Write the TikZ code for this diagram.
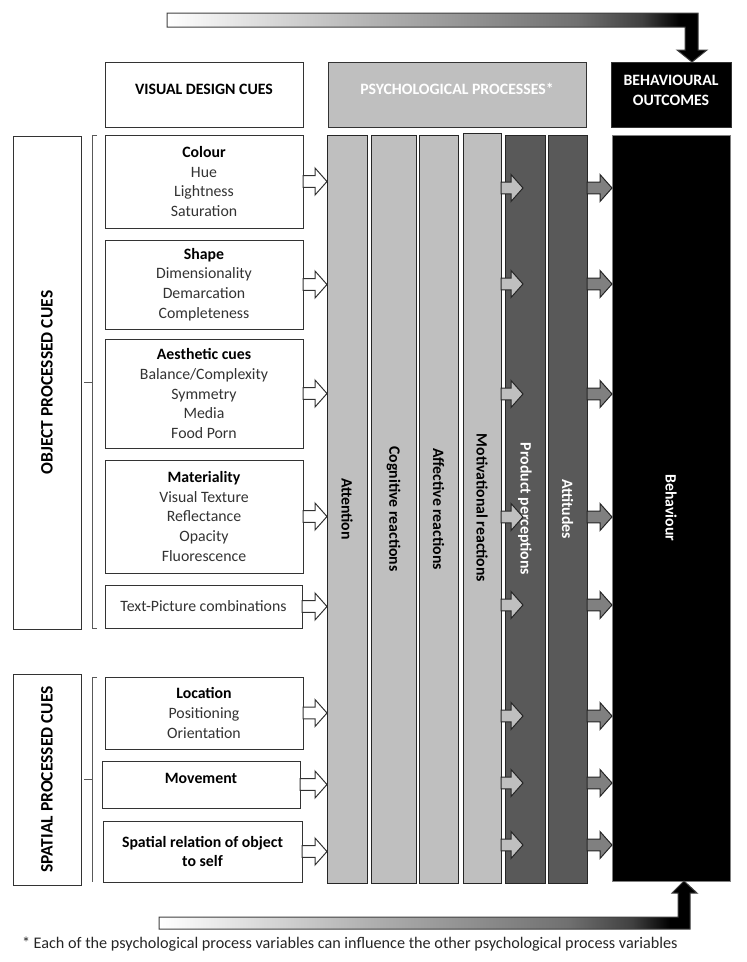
\documentclass[tikz,border=0pt]{standalone}
\usepackage{fontspec}
\setmainfont{Carlito}
\usetikzlibrary{calc,positioning}

\pgfdeclarehorizontalshading{elbowshade}{100bp}{color(0bp)=(white); color(25bp)=(white); color(44.5bp)=(black!31); color(63bp)=(black!56); color(69bp)=(black!75); color(72.5bp)=(black); color(100bp)=(black)}
\newcommand{\blockarrow}[3]{%
  \draw[#1] let \p1=#2, \p2=#3 in
    (\x1,\y1+5.8pt) -- (\x2-12pt,\y1+5.8pt) -- (\x2-12pt,\y1+13.5pt) -- (\x2,\y1)
    -- (\x2-12pt,\y1-13.5pt) -- (\x2-12pt,\y1-5.8pt) -- (\x1,\y1-5.8pt) -- cycle;}
\newcommand{\cuehead}[1]{\textcolor{black}{\textbf{#1}}}

\begin{document}
\begin{tikzpicture}[x=1pt,y=-1pt,line width=1pt,font=\fontsize{15.8}{19.6}\selectfont]
                \tikzstyle{every node}=[inner sep=0pt,outer sep=0pt]
                \tikzstyle{cue}=[draw=black!80,fill=white,text=black!80,align=center,minimum width=198pt]
                \tikzstyle{head}=[draw=black!80,minimum height=65pt,align=center]
                \tikzstyle{side}=[draw=black!80,fill=white,minimum width=68pt]
                \tikzstyle{proc}=[draw=black!85,fill=black!25,minimum height=748pt]
                \tikzstyle{proc-dark}=[proc,fill=black!65]
                \tikzstyle{hollow}=[draw=black!80,fill=white]
                \tikzstyle{light-arrow}=[draw=black!85,fill=black!25]
                \tikzstyle{dark-arrow}=[draw=black!85,fill=black!50]
                \useasboundingbox (0,0) rectangle (747,962);

                \node[head,fill=white,minimum width=198pt,label={[yshift=5.5pt]center:\textbf{VISUAL DESIGN CUES}}] (h_1) at (204,94.5) {};
                \node[head,fill=black!25,minimum width=258pt,label={[yshift=5.5pt,text=white]center:\textbf{PSYCHOLOGICAL PROCESSES*}}] (h_2) at (457,94.5) {};
                \node[head,fill=black,minimum width=120pt,label={[yshift=4pt,text=white,align=center]center:\textbf{BEHAVIOURAL}\\\textbf{OUTCOMES}}] (h_3) at (671,94.5) {};

                \node[side,minimum height=493pt,label={[rotate=90]center:\fontsize{17.5}{20}\selectfont\textbf{OBJECT PROCESSED CUES}}] (l_1) at (47,382.5) {};
                \node[side,minimum height=211pt,label={[rotate=90]center:\fontsize{17.5}{20}\selectfont\textbf{SPATIAL PROCESSED CUES}}] (l_2) at (47,779.5) {};

                \node[cue,minimum height=93pt] (c_1) at (204,181.5) {\cuehead{Colour}\\Hue\\Lightness\\Saturation};
                \node[cue,minimum height=89pt] (c_2) at (204,284.5) {\cuehead{Shape}\\Dimensionality\\Demarcation\\Completeness};
                \node[cue,minimum height=109pt] (c_3) at (204,393.5) {\cuehead{Aesthetic cues}\\Balance/Complexity\\Symmetry\\Media\\Food Porn};
                \node[cue,minimum height=113pt] (c_4) at (204,516.5) {\cuehead{Materiality}\\Visual Texture\\Reflectance\\Opacity\\Fluorescence};
                \node[cue,minimum width=197pt,minimum height=43pt] (c_5) at (203.5,606.5) {Text-Picture combinations};
                \node[cue,minimum height=72pt] (c_6) at (204,713) {\cuehead{Location}\\Positioning\\Orientation};
                \node[cue,minimum height=47pt,label={[yshift=6pt]center:\cuehead{Movement}}] (c_7) at (201,784.5) {};
                \node[cue,minimum width=199pt,minimum height=61pt] (c_8) at (202.5,851.5) {\cuehead{Spatial relation of object}\\\cuehead{to self}};

                \draw[black!65] ($(c_1.north west)+(-8,0)$) -- ++(-5,0) |- ($(c_5.south west)+(-8,0)$);
                \draw[black!65] ($(l_1.east)+(3,0)$) -- ++(8,0);
                \draw[black!65] ($(c_6.north west)+(-8,0)$) -- ++(-5,0) |- ($(c_8.south west)+(-11,0)$);
                \draw[black!65] ($(l_2.east)+(3,0)$) -- ++(8,0);

                \node[proc,minimum width=40pt,label={[rotate=-90]center:\textbf{Attention}}] (p_1) at (347,509) {};
                \node[proc,minimum width=45pt,label={[rotate=-90]center:\textbf{Cognitive reactions}}] (p_2) at (393.5,509) {};
                \node[proc,minimum width=39pt,label={[rotate=-90]center:\textbf{Affective reactions}}] (p_3) at (438.5,509) {};
                \node[proc,minimum width=38pt,minimum height=750pt,label={[rotate=-90]center:\textbf{Motivational reactions}}] (p_4) at (482,508) {};
                \node[proc-dark,minimum width=40pt,label={[rotate=-90,text=white]center:\textbf{Product perceptions}}] (p_5) at (525,509) {};
                \node[proc-dark,minimum width=39pt,label={[rotate=-90,text=white]center:\textbf{Attitudes}}] (p_6) at (567.5,509) {};
                \node[draw=black!50,fill=black,minimum width=118pt,minimum height=746pt,label={[rotate=-90,text=white]center:\textbf{Behaviour}}] (b_1) at (671,508) {};

                \foreach \i in {1,...,8}
                    \blockarrow{hollow}{(c_\i.east)}{(p_1.west |- c_\i.east)};
                \foreach \i/\y in {1/188,2/284,3/394,4/517,5/605,6/716,7/783,8/845} {
                    \coordinate (r_\i) at (0,\y);
                    \blockarrow{light-arrow}{(p_4.east |- r_\i)}{($(p_4.east |- r_\i)+(22,0)$)};
                    \blockarrow{dark-arrow}{(p_6.east |- r_\i)}{(b_1.west |- r_\i)};
                }

                \coordinate (t_1) at (692,62);
                \coordinate (t_2) at (684,881);
                \shadedraw[shading=elbowshade,draw=black!75] (167,13) -- (698,13) -- (698,50) -- (707,50) -- (t_1) -- (677,50) -- (685,50) -- (685,27) -- (167,27) -- cycle;
                \shadedraw[shading=elbowshade,draw=black!75] (159,929) -- (690,929) -- (690,893) -- (697,893) -- (t_2) -- (672,893) -- (678,893) -- (678,917) -- (159,917) -- cycle;

                \node[anchor=base west,font=\fontsize{16.2}{19}\selectfont,text=black!85] (note) at (22,948) {* Each of the psychological process variables can influence the other psychological process variables};
\end{tikzpicture}
\end{document}
